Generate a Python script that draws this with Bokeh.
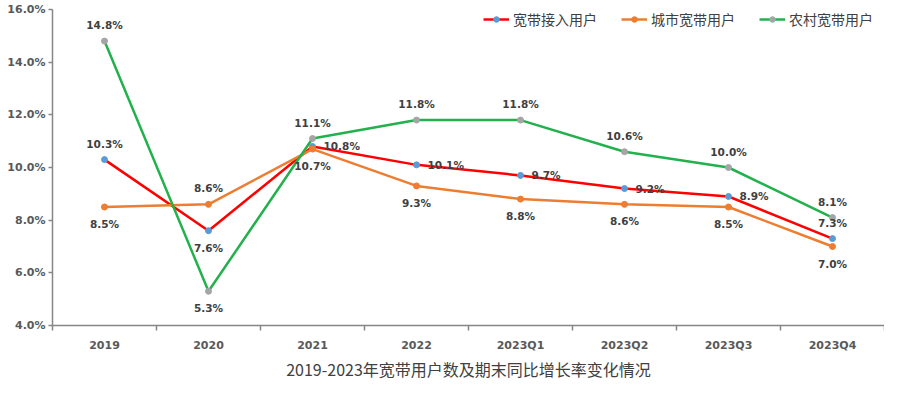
from bokeh.plotting import figure
from bokeh.models import ColumnDataSource, FixedTicker, PrintfTickFormatter, Legend, LegendItem, Range1d
from bokeh.embed import file_html
from bokeh.resources import INLINE
from bokeh.core.properties import value

categories = ["2019", "2020", "2021", "2022", "2023Q1", "2023Q2", "2023Q3", "2023Q4"]
total = [10.3, 7.6, 10.8, 10.1, 9.7, 9.2, 8.9, 7.3]
urban = [8.5, 8.6, 10.7, 9.3, 8.8, 8.6, 8.5, 7.0]
rural = [14.8, 5.3, 11.1, 11.8, 11.8, 10.6, 10.0, 8.1]
y_ticks = [4, 6, 8, 10, 12, 14, 16]
caption = "2019-2023年宽带用户数及期末同比增长率变化情况"

total_pos = ["above", "below", "right", "right", "right", "right", "right", "above"]
urban_pos = ["below", "above", "below", "below", "below", "below", "below", "below"]
rural_pos = ["above", "below", "above", "above", "above", "above", "above", "above"]

names = ["宽带接入用户", "城市宽带用户", "农村宽带用户"]
line_colors = ["#FF0000", "#ED7D31", "#22B14C"]
marker_colors = ["#5B9BD5", "#ED7D31", "#A5A5A5"]

n = len(categories)
xs = [i + 0.5 for i in range(n)]

p = figure(width=884, height=380, output_backend="svg", toolbar_location=None,
           x_range=Range1d(0, n), y_range=Range1d(y_ticks[0], y_ticks[-1]),
           title=caption, title_location="below",
           min_border_left=52, min_border_top=9, min_border_right=0, min_border_bottom=0)
p.outline_line_color = None
p.xgrid.grid_line_color = None
p.ygrid.grid_line_color = None
p.background_fill_color = "white"

p.title.align = "center"
p.title.text_font = "Noto Sans CJK SC"
p.title.text_font_style = "normal"
p.title.text_font_size = "16px"
p.title.text_color = "#404040"
p.title.standoff = 0
p.title.offset = 0

axis_color = "#868686"
tick_text = "#595959"

# x axis
p.xaxis.ticker = FixedTicker(ticks=xs, minor_ticks=list(range(n + 1)))
p.xaxis.major_label_overrides = {x: c for x, c in zip(xs, categories)}
p.xaxis.major_tick_line_color = None
p.xaxis.major_tick_out = 0
p.xaxis.major_tick_in = 0
p.xaxis.minor_tick_line_color = axis_color
p.xaxis.minor_tick_line_width = 1.5
p.xaxis.minor_tick_out = 5
p.xaxis.minor_tick_in = 0
p.xaxis.axis_line_color = axis_color
p.xaxis.axis_line_width = 1.5
p.xaxis.major_label_standoff = 8
p.xaxis.major_label_text_font = "DejaVu Sans"
p.xaxis.major_label_text_font_style = "bold"
p.xaxis.major_label_text_font_size = "11px"
p.xaxis.major_label_text_color = tick_text

# y axis
p.yaxis.ticker = FixedTicker(ticks=y_ticks, minor_ticks=[])
p.yaxis.formatter = PrintfTickFormatter(format="%.1f%%")
p.yaxis.axis_line_color = axis_color
p.yaxis.axis_line_width = 1.5
p.yaxis.major_tick_line_color = axis_color
p.yaxis.major_tick_line_width = 1.5
p.yaxis.major_tick_out = 4
p.yaxis.major_tick_in = 0
p.yaxis.major_label_standoff = 3
p.yaxis.major_label_text_font = "DejaVu Sans"
p.yaxis.major_label_text_font_style = "bold"
p.yaxis.major_label_text_font_size = "11px"
p.yaxis.major_label_text_color = tick_text

offsets = {"above": (0, -16, "center"), "below": (0, 17, "center"), "right": (11, 0, "left")}

items = []
label_center = dict(x=[], y=[], t=[], dx=[], dy=[])
label_left = dict(x=[], y=[], t=[], dx=[], dy=[])
for name, vals, pos, lc, mc in zip(names, [total, urban, rural], [total_pos, urban_pos, rural_pos],
                                   line_colors, marker_colors):
    src = ColumnDataSource(data=dict(x=xs, y=vals))
    r1 = p.line("x", "y", source=src, line_color=lc, line_width=2.5)
    r2 = p.scatter("x", "y", source=src, size=6, fill_color=mc, line_color=mc)
    items.append(LegendItem(label=name, renderers=[r1, r2]))
    for x, v, ps in zip(xs, vals, pos):
        dx, dy, al = offsets[ps]
        d = label_left if al == "left" else label_center
        d["x"].append(x); d["y"].append(v); d["t"].append(f"{v:.1f}%")
        d["dx"].append(dx); d["dy"].append(dy)

for d, al in [(label_center, "center"), (label_left, "left")]:
    p.text("x", "y", text="t", x_offset="dx", y_offset="dy", source=ColumnDataSource(d),
           text_align=al, text_baseline="middle", text_font=value("DejaVu Sans"),
           text_font_style="bold", text_font_size="10.5px", text_color="#404040")

legend = Legend(items=items, orientation="horizontal", location=(431, 296),
                background_fill_alpha=0, border_line_color=None, padding=0, margin=0,
                spacing=24, glyph_width=26, glyph_height=14, label_height=14, label_standoff=4,
                label_text_font="Noto Sans CJK SC", label_text_font_size="14px",
                label_text_color="#404040")
p.add_layout(legend)

open("out.html", "w").write(file_html(p, INLINE))
